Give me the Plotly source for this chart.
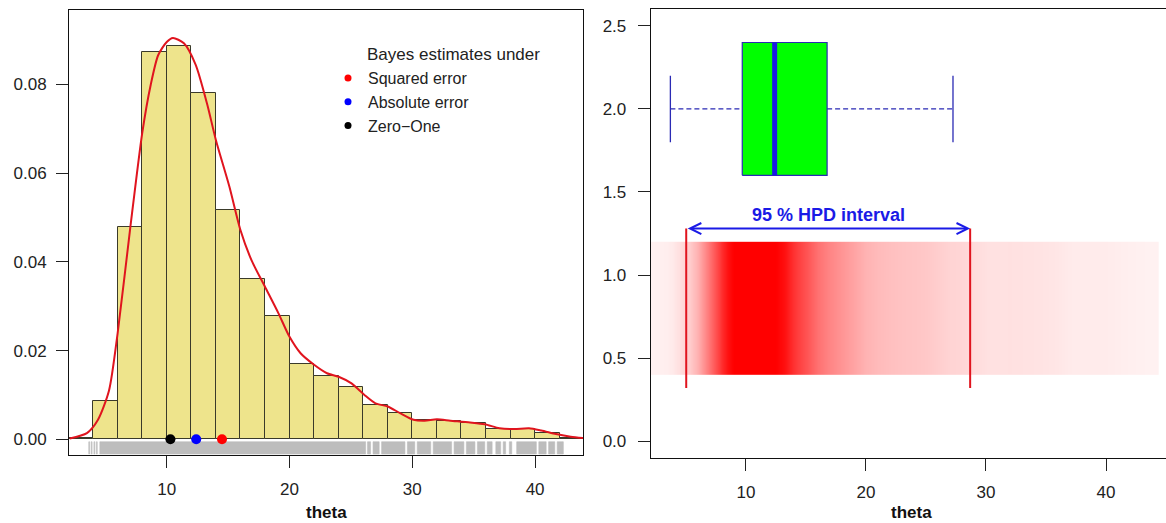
import plotly.graph_objects as go

W, H = 1166, 523

# ---------------- data ----------------
hist_edges = [2, 4, 6, 8, 10, 12, 14, 16, 18, 20, 22, 24, 26, 28, 30, 32, 34, 36, 38, 40, 42, 44]
hist_density = [0.0004, 0.0086, 0.0479, 0.0873, 0.0887, 0.0781, 0.0516, 0.0361, 0.0278, 0.0169,
                0.0143, 0.0117, 0.0078, 0.0059, 0.0044, 0.0041, 0.0036, 0.0023, 0.0023, 0.00135, 0.0004]

dens_x = [2.1, 3.5, 4.4, 5.3, 6.0, 7.0, 8.0, 8.7, 9.3, 10.0, 10.5, 11.4, 12.35, 13.3, 14.0, 15.1,
          16.0, 16.9, 18.0, 19.1, 20.0, 20.9, 22.0, 23.05, 24.0, 25.05, 26.1, 27.0, 28.0, 29.0,
          30.1, 31.0, 32.0, 33.1, 34.7, 35.9, 37.1, 38.3, 39.5, 40.5, 41.7, 42.9, 43.9]
dens_y = [0.0002, 0.0014, 0.0044, 0.011, 0.0239, 0.047, 0.069, 0.080, 0.0866, 0.0896, 0.0905,
          0.0893, 0.0845, 0.0755, 0.0675, 0.057, 0.0472, 0.0404, 0.0344, 0.0284, 0.0231, 0.0194,
          0.0168, 0.0149, 0.0141, 0.0126, 0.0100, 0.0081, 0.0074, 0.0059, 0.0044, 0.0042, 0.0045,
          0.0042, 0.0038, 0.0034, 0.0025, 0.0023, 0.0025, 0.0020, 0.0012, 0.0006, 0.0003]

estimate_names = ["Squared error", "Absolute error", "Zero\u2212One"]
estimate_values = [14.5, 12.4, 10.3]
estimate_colors = ["#ff0000", "#0000ff", "#000000"]
legend_title = "Bayes estimates under"

# rug drawn as covered theta-intervals
rug_segments = [(3.65, 3.72), (3.85, 3.92), (4.07, 4.14), (4.27, 4.34), (4.55, 26.2),
                (26.35, 26.6), (26.8, 27.3), (27.5, 29.4), (29.6, 30.2), (30.4, 31.5),
                (31.7, 33.2), (33.4, 34.2), (34.4, 35.1), (35.3, 35.9), (36.1, 36.5),
                (36.8, 37.2), (37.4, 37.6), (37.9, 38.1), (38.5, 40.1), (40.3, 40.9),
                (41.1, 41.6), (41.8, 42.3)]

box_low, box_q1, box_median, box_q3, box_high = 3.70, 9.69, 12.39, 16.76, 27.25
hpd_lower, hpd_upper = 5.02, 28.68
hpd_label = "95 % HPD interval"
axis_title = "theta"

x_ticks = [10, 20, 30, 40]
y1_ticks = [0.0, 0.02, 0.04, 0.06, 0.08]
y2_ticks = [0.0, 0.5, 1.0, 1.5, 2.0, 2.5]

# ---------------- figure ----------------
FONT = "Liberation Sans, Arial, Helvetica, sans-serif"
TXT = "#222222"
fig = go.Figure()

# histogram
centers = [(a + b) / 2 for a, b in zip(hist_edges[:-1], hist_edges[1:])]
widths = [b - a for a, b in zip(hist_edges[:-1], hist_edges[1:])]
fig.add_trace(go.Bar(x=centers, y=hist_density, width=widths,
                     marker=dict(color="#EEE48C", line=dict(color="#3a3a2a", width=1)),
                     showlegend=False, hoverinfo="skip", xaxis="x", yaxis="y"))

# rug
rx, ry = [], []
r_top, r_bot = -0.00055, -0.0033
for a, b in rug_segments:
    rx += [a, b, b, a, a, None]
    ry += [r_top, r_top, r_bot, r_bot, r_top, None]
fig.add_trace(go.Scatter(x=rx, y=ry, mode="lines", fill="toself", fillcolor="#bdbdbd",
                         line=dict(color="#bdbdbd", width=0.6), showlegend=False,
                         hoverinfo="skip", xaxis="x", yaxis="y"))

# density curve
fig.add_trace(go.Scatter(x=dens_x, y=dens_y, mode="lines",
                         line=dict(color="#e0141e", width=2, shape="spline", smoothing=0.7),
                         showlegend=False, hoverinfo="skip", xaxis="x", yaxis="y"))

# Bayes estimates: small dot carries the legend entry, larger dot on top is the visible mark
for name, val, col in zip(estimate_names, estimate_values, estimate_colors):
    fig.add_trace(go.Scatter(x=[val], y=[0], mode="markers", name=name,
                             marker=dict(color=col, size=7), cliponaxis=False,
                             xaxis="x", yaxis="y"))
for name, val, col in zip(estimate_names, estimate_values, estimate_colors):
    fig.add_trace(go.Scatter(x=[val], y=[0], mode="markers", name=name, showlegend=False,
                             marker=dict(color=col, size=10), cliponaxis=False,
                             xaxis="x", yaxis="y"))

# ----- right panel -----
zmax = max(dens_y)
fig.add_trace(go.Heatmap(x=dens_x, y=[0.4, 0.8, 1.2], z=[dens_y, dens_y], zmin=0, zmax=zmax,
                         zsmooth="best", showscale=False, hoverinfo="skip",
                         colorscale=[[0.0, "#fff2f2"], [0.03, "#ffeaea"], [0.045, "#ffe2e2"],
                                     [0.08, "#ffd6d6"], [0.12, "#ffcccc"], [0.17, "#ffc2c2"],
                                     [0.26, "#ffb2b2"], [0.4, "#ff9090"], [0.52, "#ff7272"],
                                     [0.72, "#ff3c3c"], [0.85, "#ff0f0f"], [0.92, "#ff0000"],
                                     [1.0, "#ff0000"]],
                         xaxis="x2", yaxis="y2"))

# HPD vertical lines
for v in (hpd_lower, hpd_upper):
    fig.add_trace(go.Scatter(x=[v, v], y=[0.32, 1.28], mode="lines",
                             line=dict(color="#e0141e", width=2), showlegend=False,
                             hoverinfo="skip", xaxis="x2", yaxis="y2"))

# boxplot pieces
BC = "#2a2ab4"
yc, hb, hs = 2.0, 0.4, 0.2
fig.add_trace(go.Scatter(x=[box_low, box_q1, None, box_q3, box_high], y=[yc, yc, None, yc, yc],
                         mode="lines", line=dict(color=BC, width=1.3, dash="5px,3px"),
                         showlegend=False, hoverinfo="skip", xaxis="x2", yaxis="y2"))
fig.add_trace(go.Scatter(x=[box_low, box_low, None, box_high, box_high],
                         y=[yc - hs, yc + hs, None, yc - hs, yc + hs],
                         mode="lines", line=dict(color=BC, width=1.3),
                         showlegend=False, hoverinfo="skip", xaxis="x2", yaxis="y2"))
fig.add_trace(go.Scatter(x=[box_q1, box_q3, box_q3, box_q1, box_q1],
                         y=[yc - hb, yc - hb, yc + hb, yc + hb, yc - hb],
                         mode="lines", fill="toself", fillcolor="#00ff00",
                         line=dict(color=BC, width=1.2),
                         showlegend=False, hoverinfo="skip", xaxis="x2", yaxis="y2"))
fig.add_trace(go.Scatter(x=[box_median, box_median], y=[yc - hb, yc + hb], mode="lines",
                         line=dict(color="#1a1ae6", width=5),
                         showlegend=False, hoverinfo="skip", xaxis="x2", yaxis="y2"))

annotations = [
    dict(x=hpd_upper, y=1.28, ax=hpd_lower, ay=1.28, xref="x2", yref="y2", axref="x2", ayref="y2",
         text="", showarrow=True, arrowhead=5, startarrowhead=5, arrowside="end+start",
         arrowsize=1.1, arrowwidth=2, arrowcolor="#1a1ae6", standoff=0, startstandoff=0),
    dict(x=(hpd_lower + hpd_upper) / 2, y=1.36, xref="x2", yref="y2", text="<b>" + hpd_label + "</b>",
         showarrow=False, xanchor="center", yanchor="middle",
         font=dict(family=FONT, size=18, color="#1a1ae6")),
    dict(x=326 / W, y=1 - 512 / H, xref="paper", yref="paper", text="<b>" + axis_title + "</b>",
         xanchor="center", yanchor="middle", showarrow=False,
         font=dict(family=FONT, size=17, color="#111")),
    dict(x=911 / W, y=1 - 512 / H, xref="paper", yref="paper", text="<b>" + axis_title + "</b>",
         xanchor="center", yanchor="middle", showarrow=False,
         font=dict(family=FONT, size=17, color="#111")),
    dict(x=365 / W, y=1 - 55 / H, xref="paper", yref="paper", text=legend_title,
         xanchor="left", yanchor="middle", showarrow=False,
         font=dict(family=FONT, size=17, color=TXT)),
]

ax_common = dict(showgrid=False, zeroline=False, showline=True, linecolor="#111", linewidth=1,
                 ticks="outside", ticklen=12, tickcolor="#222", tickwidth=1,
                 tickfont=dict(family=FONT, size=17, color=TXT))

fig.update_layout(
    width=W, height=H, margin=dict(l=0, r=0, t=0, b=0),
    paper_bgcolor="white", plot_bgcolor="white", barmode="overlay", bargap=0,
    font=dict(family=FONT, size=17, color=TXT),
    xaxis=dict(domain=[69 / W, 583 / W], range=[2.04, 43.9], tickvals=x_ticks, mirror=True,
               anchor="y", ticklabelstandoff=7, **ax_common),
    yaxis=dict(domain=[1 - 455 / H, 1 - 10 / H], range=[-0.00354, 0.0968], tickvals=y1_ticks,
               tickformat=".2f", mirror=True, anchor="x", ticklabelstandoff=6, **ax_common),
    xaxis2=dict(domain=[650.7 / W, 1.0], range=[2.06, 45.0], tickvals=x_ticks, mirror=True,
                anchor="y2", ticklabelstandoff=7, **ax_common),
    yaxis2=dict(domain=[1 - 457.7 / H, 1 - 9.3 / H], range=[-0.1, 2.6], tickvals=y2_ticks,
                tickformat=".1f", mirror=False, anchor="x2", ticklabelstandoff=8, **ax_common),
    legend=dict(x=328 / W, y=1 - 61 / H, xanchor="left", yanchor="top", bgcolor="rgba(0,0,0,0)",
                font=dict(family=FONT, size=16, color=TXT), tracegroupgap=0),
    annotations=annotations,
)

fig.write_html("out.html")
